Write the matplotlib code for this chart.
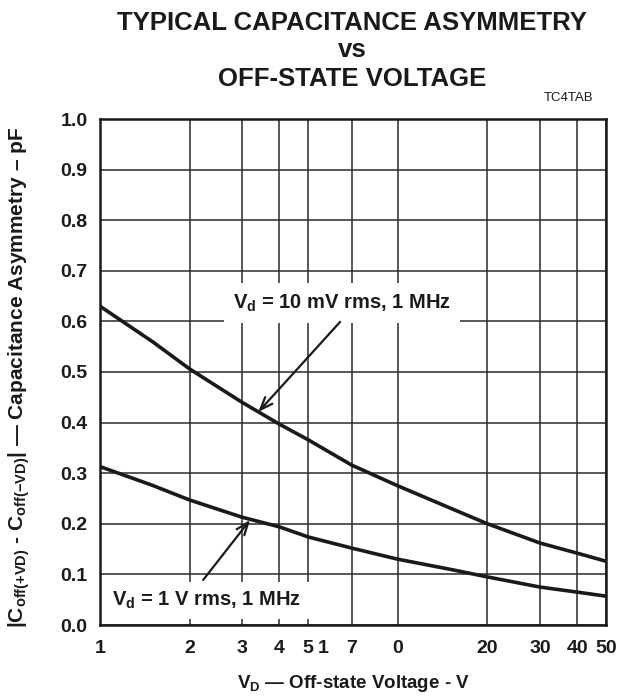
import matplotlib
matplotlib.use('Agg')
import matplotlib.pyplot as plt
from matplotlib.ticker import FixedLocator, FixedFormatter

plt.rcParams['font.family'] = ['Liberation Sans', 'DejaVu Sans']
plt.rcParams['font.weight'] = 'bold'
plt.rcParams['mathtext.fontset'] = 'custom'
plt.rcParams['mathtext.rm'] = 'Liberation Sans:bold'
plt.rcParams['mathtext.it'] = 'Liberation Sans:bold'
plt.rcParams['mathtext.bf'] = 'Liberation Sans:bold'
plt.rcParams['mathtext.default'] = 'rm'

# ---- data ----
voltage = [1, 1.5, 2, 3, 4, 5, 7, 10, 15, 20, 30, 40, 50]
asym_10mv = [0.630, 0.560, 0.506, 0.440, 0.397, 0.366, 0.316, 0.275, 0.231, 0.200, 0.162, 0.142, 0.126]
asym_1v = [0.313, 0.276, 0.247, 0.213, 0.194, 0.174, 0.152, 0.130, 0.110, 0.095, 0.075, 0.065, 0.057]

grid_x = [1, 2, 3, 4, 5, 7, 10, 20, 30, 40, 50]
grid_labels = ["1", "2", "3", "4", "5", "7", "0", "20", "30", "40", "50"]
extra_x = [5.6]
extra_labels = ["1"]
y_ticks = [0.0, 0.1, 0.2, 0.3, 0.4, 0.5, 0.6, 0.7, 0.8, 0.9, 1.0]
y_labels = ["0.0", "0.1", "0.2", "0.3", "0.4", "0.5", "0.6", "0.7", "0.8", "0.9", "1.0"]

label_10mv = r'$V_d$ = 10 mV rms, 1 MHz'
label_1v = r'$V_d$ = 1 V rms, 1 MHz'
arrow_10mv = ((6.4, 0.599), (3.40, 0.421))
arrow_1v = ((2.22, 0.089), (3.19, 0.2075))

fig = plt.figure(figsize=(6.31, 7.0), dpi=100)
ax = fig.add_axes([100/631, 75/700, 506/631, 506/700])

ink = '#1a1a1a'
ax.set_xscale('log')
ax.set_xlim(1, 50)
ax.set_ylim(0, 1.0)

ax.xaxis.set_major_locator(FixedLocator(grid_x))
ax.xaxis.set_major_formatter(FixedFormatter(grid_labels))
ax.xaxis.set_minor_locator(FixedLocator(extra_x))
ax.xaxis.set_minor_formatter(FixedFormatter(extra_labels))
ax.set_yticks(y_ticks)
ax.set_yticklabels(y_labels)

ax.tick_params(axis='both', which='both', length=0, labelsize=14, colors=ink)
ax.tick_params(axis='x', which='both', pad=11)
ax.tick_params(axis='y', pad=9)
for lab in ax.get_xticklabels(which='both') + ax.get_yticklabels():
    lab.set_fontweight('bold')

ax.grid(True, which='major', color='#2a2a2a', linewidth=1.1)
ax.set_axisbelow(True)
for s in ax.spines.values():
    s.set_linewidth(1.8)
    s.set_color(ink)

ax.plot(voltage, asym_10mv, color=ink, linewidth=2.6, solid_capstyle='butt', zorder=3)
ax.plot(voltage, asym_1v, color=ink, linewidth=2.6, solid_capstyle='butt', zorder=3)

# annotation labels with white boxes
ax.text(2.80, 0.636, label_10mv, fontsize=14.5, fontweight='bold', color=ink,
        ha='left', va='center', zorder=4,
        bbox=dict(facecolor='white', edgecolor='none', boxstyle='square,pad=0.45'))
ax.text(1.097, 0.048, label_1v, fontsize=14.5, fontweight='bold', color=ink,
        ha='left', va='center', zorder=4,
        bbox=dict(facecolor='white', edgecolor='none', boxstyle='square,pad=0.4'))

for (tail, tip) in (arrow_10mv, arrow_1v):
    ax.annotate('', xy=tip, xytext=tail, zorder=5,
                arrowprops=dict(arrowstyle='->,head_length=0.9,head_width=0.35',
                                color=ink, linewidth=1.6, shrinkA=0, shrinkB=0))

ax.set_xlabel(r'$V_D$ — Off-state Voltage - V', fontsize=13.5, fontweight='bold', color=ink)
ax.xaxis.set_label_coords(0.5, -0.095)
ax.set_ylabel(r'$|C_{off(+VD)}$ - $C_{off(-VD)}|$ — Capacitance Asymmetry – pF',
              fontsize=15, fontweight='bold', color=ink)
ax.yaxis.set_label_coords(-0.135, 0.49)

fig.text(352/631, 1 - 30/700, 'TYPICAL CAPACITANCE ASYMMETRY', fontsize=18.5,
         fontweight='bold', ha='center', va='baseline', color=ink)
fig.text(352/631, 1 - 57/700, 'vs', fontsize=18.5,
         fontweight='bold', ha='center', va='baseline', color=ink)
fig.text(352/631, 1 - 86/700, 'OFF-STATE VOLTAGE', fontsize=18.5,
         fontweight='bold', ha='center', va='baseline', color=ink)
fig.text(593/631, 1 - 101/700, 'TC4TAB', fontsize=9.5, fontweight='normal',
         ha='right', va='baseline', color=ink)

fig.savefig('out.png', dpi=100)
